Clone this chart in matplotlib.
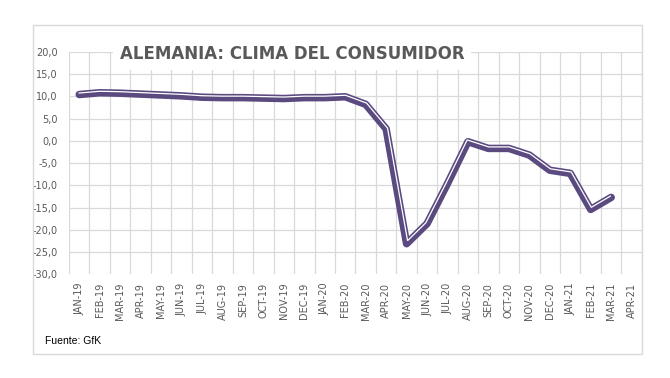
import numpy as np
import matplotlib
matplotlib.use("Agg")
import matplotlib.pyplot as plt
from matplotlib.patches import Rectangle

# months on the x axis (last one has no value yet)
months = ["JAN-19", "FEB-19", "MAR-19", "APR-19", "MAY-19", "JUN-19", "JUL-19",
          "AUG-19", "SEP-19", "OCT-19", "NOV-19", "DEC-19", "JAN-20", "FEB-20",
          "MAR-20", "APR-20", "MAY-20", "JUN-20", "JUL-20", "AUG-20", "SEP-20",
          "OCT-20", "NOV-20", "DEC-20", "JAN-21", "FEB-21", "MAR-21", "APR-21"]

# GfK consumer climate values
clima = [10.4, 10.8, 10.7, 10.5, 10.3, 10.1, 9.8,
         9.7, 9.7, 9.6, 9.5, 9.7, 9.7, 9.9,
         8.2, 2.7, -23.1, -18.6, -9.6, -0.2, -1.7,
         -1.7, -3.2, -6.6, -7.3, -15.4, -12.7]

y_ticks = [-30, -25, -20, -15, -10, -5, 0, 5, 10, 15, 20]

purple = "#5a4a80"
grey_txt = "#595959"
grid_col = "#d9d9d9"

fig = plt.figure(figsize=(6.7, 3.78), dpi=100)
ax = fig.add_axes([0.103, 0.274, 0.855, 0.589])

ax.set_xlim(-0.5, len(months) - 0.5)
ax.set_ylim(-30, 20)

# grid lines between the categories, like excel does it
ax.set_xticks(np.arange(len(months)))
ax.set_xticks(np.arange(len(months) + 1) - 0.5, minor=True)
ax.set_xticklabels(months, rotation=90, fontsize=7, color=grey_txt,
                   family="DejaVu Sans")
ax.set_yticks(y_ticks)
ax.set_yticklabels([("%.1f" % v).replace(".", ",") for v in y_ticks],
                   fontsize=7, color=grey_txt, family="DejaVu Sans")
ax.tick_params(axis="both", which="both", length=0)
ax.tick_params(axis="x", pad=6)
ax.tick_params(axis="y", pad=8)
ax.grid(True, axis="x", which="minor", color=grid_col, lw=0.9)
ax.grid(True, axis="y", which="major", color=grid_col, lw=0.9)
ax.get_ygridlines()[0].set_visible(False)  # no line at -30
for s in ax.spines.values():
    s.set_visible(False)
ax.set_axisbelow(True)

x = np.arange(len(clima))
ax.plot(x, clima, color=purple, lw=5.4, solid_capstyle="round",
        solid_joinstyle="round", zorder=3)

# thin white line a bit off-centre to get the "double line" look
pts = ax.transData.transform(np.column_stack([x, clima]))
d = np.diff(pts, axis=0)
d = d / np.hypot(d[:, 0], d[:, 1])[:, None]
nrm = np.column_stack([-d[:, 1], d[:, 0]])
off = np.zeros_like(pts)
off[0] = nrm[0]
off[-1] = nrm[-1]
for i in range(1, len(pts) - 1):
    n1, n2 = nrm[i - 1], nrm[i]
    off[i] = (n1 + n2) / (1 + np.dot(n1, n2))
shift = 1.5  # pixels
white_pts = ax.transData.inverted().transform(pts + shift * off)
ax.plot(white_pts[:, 0], white_pts[:, 1], color="white", lw=0.9,
        solid_joinstyle="miter", zorder=4)

# title over the top of the plot
fig.text(0.436, 0.857, "ALEMANIA: CLIMA DEL CONSUMIDOR", ha="center",
         va="center", fontsize=12, fontweight="bold", color=grey_txt,
         family="DejaVu Sans",
         bbox=dict(boxstyle="square,pad=0.4", fc="white", ec="none"))

fig.text(0.067, 0.099, "Fuente: GfK", fontsize=7.5, color="black",
         family="Liberation Sans", va="center")

# outer chart frame
fig.patches.append(Rectangle((33 / 670, 24 / 378), 609 / 670, 329 / 378,
                             transform=fig.transFigure, fill=False,
                             ec=grid_col, lw=1))

fig.savefig("out.png", dpi=100)
